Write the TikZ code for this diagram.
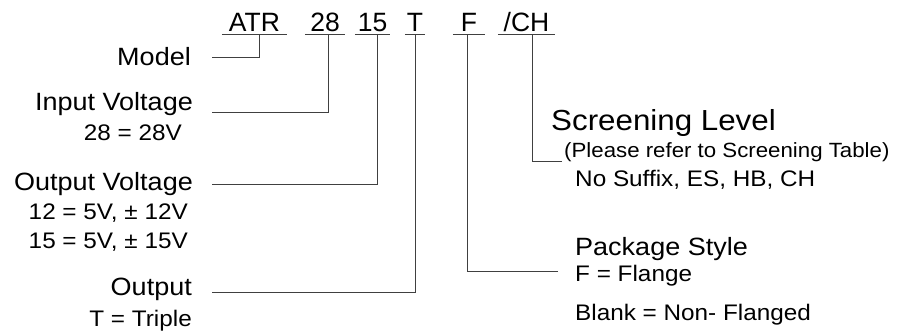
\documentclass[tikz,border=0pt]{standalone}
\usepackage{fontspec}
\setmainfont{Liberation Sans}
\usetikzlibrary{positioning}

\begin{document}
\begin{tikzpicture}[x=1pt,y=-1pt]
\tikzstyle{code}=[inner sep=0pt,anchor=base,font=\fontsize{26.5}{26.5}\selectfont]
\tikzstyle{head}=[inner sep=0pt,xscale=1.08,transform shape,font=\fontsize{25}{25}\selectfont]
\tikzstyle{sub}=[inner sep=0pt,xscale=1.08,transform shape,font=\fontsize{22.5}{22.5}\selectfont]
\tikzstyle{wire}=[draw=black!75,line width=0.8pt]
\useasboundingbox (0,0) rectangle (899,331);
% part number
\node[code,minimum width=65pt] (atr) at (254.5,32) {ATR};
\node[code,minimum width=40pt] (v28) at (325,32) {28};
\node[code,minimum width=35pt] (v15) at (372.5,32) {15};
\node[code,minimum width=20pt] (t) at (415,32) {T};
\node[code,minimum width=32pt] (f) at (469,32) {F};
\node[code,minimum width=57pt] (ch) at (526.5,32) {/CH};
\foreach \n in {atr,v28,v15,t,f,ch}
  \draw[wire] ([yshift=-2pt]\n.base west) -- ([yshift=-2pt]\n.base east);
% left labels
\node[head,anchor=base east] (model) at (191,66) {Model};
\node[head,anchor=base east] (input) at (193,111) {Input Voltage};
\node[sub,anchor=base east] (input28) at (182,141) {28 = 28V};
\node[head,anchor=base east] (outv) at (193,191) {Output Voltage};
\node[sub,anchor=base east] (outv12) at (188,219) {12 = 5V, ± 12V};
\node[sub,anchor=base east] (outv15) at (188,248) {15 = 5V, ± 15V};
\node[head,anchor=base east] (out) at (192,295) {Output};
\node[sub,anchor=base east] (outt) at (192,326) {T = Triple};
% right labels
\node[head,anchor=base west,font=\fontsize{29}{29}\selectfont] (scr) at (551,131) {Screening Level};
\node[sub,anchor=base west,font=\fontsize{20.6}{20.6}\selectfont] (scrnote) at (564,158) {(Please refer to Screening Table)};
\node[sub,anchor=base west] (scrlist) at (575,187) {No Suffix, ES, HB, CH};
\node[head,anchor=base west] (pkg) at (575,255) {Package Style};
\node[sub,anchor=base west] (pkgf) at (575,281) {F = Flange};
\node[sub,anchor=base west] (pkgb) at (575,320) {Blank = Non- Flanged};
% connectors
\coordinate (model-w) at (212,57);
\coordinate (input-w) at (212,112);
\coordinate (outv-w) at (212,184);
\coordinate (out-w) at (212,292);
\coordinate (scr-e) at (562,161);
\coordinate (pkg-e) at (558,271);
\draw[wire] (model-w) -| ([shift={(4.5pt,-2pt)}]atr.base);
\draw[wire] (input-w) -| ([shift={(3pt,-2pt)}]v28.base);
\draw[wire] (outv-w) -| ([shift={(4.5pt,-2pt)}]v15.base);
\draw[wire] (out-w) -| ([shift={(0pt,-2pt)}]t.base);
\draw[wire] (scr-e) -| ([shift={(5.5pt,-2pt)}]ch.base);
\draw[wire] (pkg-e) -| ([shift={(-2pt,-2pt)}]f.base);
\end{tikzpicture}
\end{document}
